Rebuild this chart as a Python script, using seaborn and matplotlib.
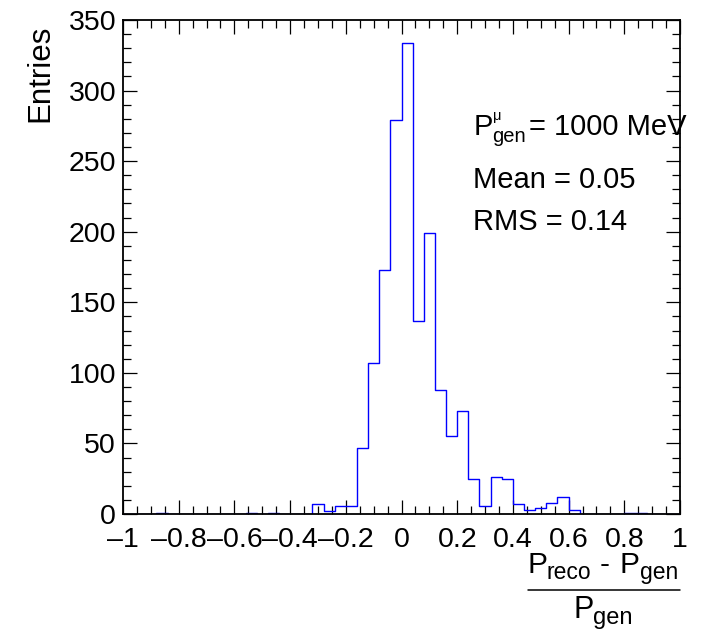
import numpy as np
import pandas as pd
import matplotlib
matplotlib.use("Agg")
import matplotlib.pyplot as plt
from matplotlib.ticker import MultipleLocator, FuncFormatter
from matplotlib.lines import Line2D
import seaborn as sns

# ---------------- data ----------------
bin_lo, bin_hi, n_bins = -1.0, 1.0, 50
counts = [0, 0, 0, 1, 0, 0, 0, 0, 0, 0,
          0, 1, 0, 1, 0, 0, 0, 7, 2, 6,
          6, 47, 107, 173, 279, 334, 137, 199, 88, 55,
          73, 25, 6, 26, 25, 7, 3, 4, 8, 12,
          3, 0, 0, 0, 0, 1, 1, 0, 0, 0]
stat_labels = ["Mean = 0.05", "RMS = 0.14"]
energy_label = "= 1000 MeV"
y_label = "Entries"

edges = np.linspace(bin_lo, bin_hi, n_bins + 1)
centers = 0.5 * (edges[:-1] + edges[1:])
df = pd.DataFrame({"x": centers, "w": counts})

sns.set_style("white")
plt.rcParams["font.family"] = ["Liberation Sans", "DejaVu Sans"]
plt.rcParams["text.color"] = "black"
plt.rcParams["axes.labelcolor"] = "black"
plt.rcParams["xtick.color"] = "black"
plt.rcParams["ytick.color"] = "black"

W, H = 717, 630
fig = plt.figure(figsize=(W / 100, H / 100), dpi=100)
ax = fig.add_axes([123 / W, 1 - 514 / H, (680 - 123) / W, (514 - 20) / H])

sns.histplot(data=df, x="x", weights="w", bins=n_bins,
             binrange=(bin_lo, bin_hi), element="step",
             fill=False, color="#0000ff", linewidth=1.0, ax=ax)

ax.set_xlim(bin_lo, bin_hi)
ax.set_ylim(0, 350)

ax.xaxis.set_major_locator(MultipleLocator(0.2))
ax.xaxis.set_minor_locator(MultipleLocator(0.05))
ax.yaxis.set_major_locator(MultipleLocator(50))
ax.yaxis.set_minor_locator(MultipleLocator(10))


def fmt(v, pos):
    s = f"{v:.1f}".rstrip("0").rstrip(".")
    if s in ("-0", "0"):
        return "0"
    return s.replace("-", "\u2013")


ax.xaxis.set_major_formatter(FuncFormatter(fmt))
ax.yaxis.set_major_formatter(FuncFormatter(lambda v, p: f"{int(round(v))}"))

for sp in ax.spines.values():
    sp.set_visible(True)
    sp.set_color("black")
    sp.set_linewidth(1.3)

ax.tick_params(which="both", direction="in", top=True, right=True,
               bottom=True, left=True, color="black", labelcolor="black",
               width=0.9)
ax.tick_params(which="major", length=10, labelsize=20.5)
ax.tick_params(axis="x", which="major", pad=9.5)
ax.tick_params(axis="y", which="major", pad=5)
ax.tick_params(which="minor", length=5.5)

ax.set_xlabel("")
ax.set_ylabel(y_label, fontsize=22.5, loc="top", color="black")
ax.yaxis.set_label_coords(-0.122, 0.99)


def ftxt(x, y, s, size):
    fig.text(x / W, 1 - y / H, s, fontsize=size, ha="left", va="baseline",
             color="black")


# P^mu_gen = 1000 MeV
ftxt(474, 135, "P", 21)
ftxt(493, 120, "\u03bc", 10.5)
ftxt(492, 142, "gen", 14.5)
ftxt(529, 135, energy_label, 21)
ftxt(473, 188, stat_labels[0], 21)
ftxt(473, 230, stat_labels[1], 21)

# x-axis label as a fraction
ftxt(527, 573, "P", 21.5)
ftxt(547, 579, "reco", 16.5)
ftxt(600, 573, "-", 21.5)
ftxt(620, 573, "P", 21.5)
ftxt(640, 579, "gen", 16.5)
fig.add_artist(Line2D([528 / W, 680 / W], [1 - 590 / H, 1 - 590 / H],
                      transform=fig.transFigure, color="black", linewidth=1.1))
ftxt(573, 618, "P", 22)
ftxt(593, 624, "gen", 17)

fig.savefig("out.png", dpi=100)
